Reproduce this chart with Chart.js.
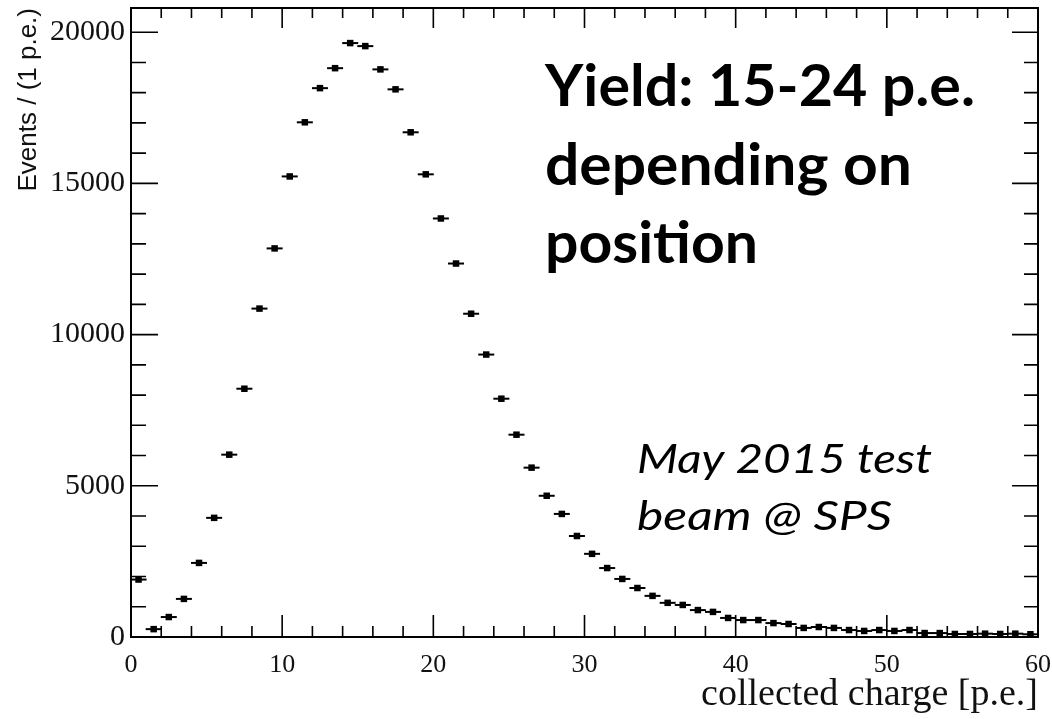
<!DOCTYPE html>
<html>
<head>
<meta charset="utf-8">
<script src="https://cdn.jsdelivr.net/npm/chart.js@4/dist/chart.umd.min.js"></script>
<style>
  html, body { margin: 0; padding: 0; background: #fff; }
  #wrap { width: 1052px; height: 719px; }
</style>
</head>
<body>
<div id="wrap"><canvas id="c" width="1052" height="719"></canvas></div>
<script>
// Bin centres (collected charge, p.e.)
const binCenters = [
  0.5, 1.5, 2.5, 3.5, 4.5, 5.5, 6.5, 7.5, 8.5, 9.5,
  10.5, 11.5, 12.5, 13.5, 14.5, 15.5, 16.5, 17.5, 18.5, 19.5,
  20.5, 21.5, 22.5, 23.5, 24.5, 25.5, 26.5, 27.5, 28.5, 29.5,
  30.5, 31.5, 32.5, 33.5, 34.5, 35.5, 36.5, 37.5, 38.5, 39.5,
  40.5, 41.5, 42.5, 43.5, 44.5, 45.5, 46.5, 47.5, 48.5, 49.5,
  50.5, 51.5, 52.5, 53.5, 54.5, 55.5, 56.5, 57.5, 58.5, 59.5
];
// Events per bin
const eventCounts = [
  1900, 260, 660, 1260, 2450, 3940, 6030, 8210, 10860, 12850,
  15230, 17020, 18150, 18810, 19640, 19540, 18770, 18110, 16690, 15300,
  13840, 12350, 10690, 9340, 7880, 6690, 5600, 4670, 4070, 3340,
  2750, 2280, 1920, 1620, 1360, 1130, 1060, 890, 830, 630,
  560, 560, 460, 430, 300, 330, 300, 230, 200, 230,
  200, 230, 130, 130, 100, 100, 110, 100, 110, 90
];
const xTickLabels = [0, 10, 20, 30, 40, 50, 60];
const yTickLabels = [0, 5000, 10000, 15000, 20000];
const annotationBold = ["Yield: 15-24 p.e.", "depending on", "position"];
const annotationItalic = ["May 2015 test", "beam @ SPS"];

const points = binCenters.map((x, i) => ({ x: x, y: eventCounts[i] }));

const X_MIN = 0, X_MAX = 60, Y_MIN = 0, Y_MAX = 20800;

const framePlugin = {
  id: 'rootFrame',
  afterDatasetsDraw(chart) {
    const { ctx, chartArea: a, scales: { x, y } } = chart;
    ctx.save();
    ctx.strokeStyle = '#000';
    ctx.lineWidth = 1.6;
    ctx.beginPath();
    for (let v = X_MIN; v <= X_MAX; v += 2) {
      const px = x.getPixelForValue(v);
      const major = v % 10 === 0;
      const lb = major ? 22 : 11;
      const lt = major ? 20 : 10;
      ctx.moveTo(px, a.bottom); ctx.lineTo(px, a.bottom - lb);
      ctx.moveTo(px, a.top); ctx.lineTo(px, a.top + lt);
    }
    for (let v = Y_MIN; v <= Y_MAX; v += 1000) {
      const py = y.getPixelForValue(v);
      const major = v % 5000 === 0;
      const ll = major ? 27 : 15;
      const lr = major ? 26 : 14;
      ctx.moveTo(a.left, py); ctx.lineTo(a.left + ll, py);
      ctx.moveTo(a.right, py); ctx.lineTo(a.right - lr, py);
    }
    ctx.stroke();
    ctx.lineWidth = 2;
    ctx.strokeRect(a.left, a.top, a.right - a.left, a.bottom - a.top);
    ctx.restore();
  }
};

function drawFitted(ctx, text, x, y, targetW) {
  const w = ctx.measureText(text).width;
  const sx = targetW / w;
  ctx.save();
  ctx.translate(x, y);
  ctx.scale(sx, 1);
  ctx.fillText(text, 0, 0);
  ctx.restore();
}

const textPlugin = {
  id: 'annotText',
  afterDraw(chart) {
    const { ctx } = chart;
    ctx.save();
    ctx.fillStyle = '#000';
    ctx.textBaseline = 'alphabetic';
    ctx.textAlign = 'left';
    ctx.font = 'bold 57px Lato';
    const boldW = [430, 367, 213];
    const boldY = [106, 185, 263];
    annotationBold.forEach((t, i) => drawFitted(ctx, t, 545, boldY[i], boldW[i]));
    ctx.font = 'italic 40px Lato';
    const itW = [295, 255];
    const itY = [473, 530];
    annotationItalic.forEach((t, i) => drawFitted(ctx, t, 637, itY[i], itW[i]));
    ctx.restore();
  }
};

function zeroPad(s) {
  s.paddingTop = 0; s.paddingBottom = 0; s.paddingLeft = 0; s.paddingRight = 0;
}

new Chart(document.getElementById('c'), {
  type: 'scatter',
  data: {
    datasets: [
      {
        label: 'xerr',
        data: points,
        pointStyle: 'line',
        pointRadius: 8,
        pointBorderWidth: 2,
        borderColor: '#000',
        backgroundColor: '#000',
        showLine: false,
        pointHoverRadius: 8
      },
      {
        label: 'events',
        data: points,
        pointStyle: 'rect',
        pointRadius: 4.6,
        pointBorderWidth: 0,
        borderColor: '#000',
        backgroundColor: '#000',
        showLine: false
      }
    ]
  },
  options: {
    responsive: false,
    animation: false,
    events: [],
    layout: { autoPadding: false, padding: { top: 8, right: 14, left: 0, bottom: 0 } },
    plugins: { legend: { display: false }, tooltip: { enabled: false } },
    scales: {
      x: {
        type: 'linear',
        min: X_MIN, max: X_MAX,
        afterFit(s) { s.height = 82; zeroPad(s); },
        afterBuildTicks(s) { s.ticks = xTickLabels.map(v => ({ value: v })); },
        grid: { display: false, drawTicks: false },
        border: { display: false },
        ticks: {
          padding: 13,
          maxRotation: 0,
          autoSkip: false,
          color: '#111',
          font: { family: 'Liberation Serif', size: 26 },
          callback: v => String(v)
        },
        title: {
          display: true,
          text: 'collected charge [p.e.]',
          align: 'end',
          color: '#111',
          font: { family: 'Liberation Serif', size: 38 },
          padding: { top: 0, bottom: 1 }
        }
      },
      y: {
        type: 'linear',
        min: Y_MIN, max: Y_MAX,
        afterFit(s) { s.width = 131; zeroPad(s); },
        afterBuildTicks(s) { s.ticks = yTickLabels.map(v => ({ value: v })); },
        grid: { display: false, drawTicks: false },
        border: { display: false },
        ticks: {
          padding: 6,
          autoSkip: false,
          color: '#111',
          font: { family: 'Liberation Serif', size: 30 },
          callback: v => String(v)
        },
        title: {
          display: true,
          text: 'Events / (1 p.e.)',
          align: 'end',
          color: '#111',
          font: { family: 'Liberation Sans', size: 26 },
          padding: { top: 13, bottom: 0 }
        }
      }
    }
  },
  plugins: [framePlugin, textPlugin]
});
</script>
</body>
</html>
